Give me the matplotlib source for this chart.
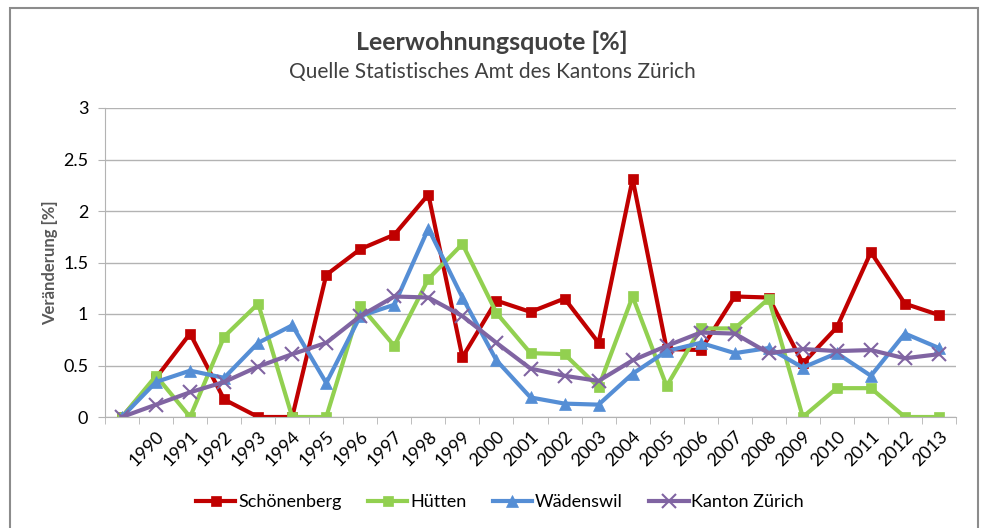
import matplotlib
matplotlib.use("Agg")
import matplotlib.pyplot as plt
from matplotlib.patches import Rectangle
import numpy as np

plt.rcParams['font.family'] = ['Lato', 'DejaVu Sans']

# ---- data ----
years = [""] + [str(y) for y in range(1990, 2014)]

schoenenberg = [0.0, 0.38, 0.81, 0.17, 0.0, 0.0, 1.38, 1.63, 1.77, 2.16, 0.58,
                1.13, 1.02, 1.15, 0.72, 2.31, 0.66, 0.65, 1.17, 1.16, 0.52,
                0.87, 1.60, 1.10, 0.99]
huetten = [0.0, 0.40, 0.0, 0.78, 1.10, 0.0, 0.0, 1.08, 0.69, 1.34, 1.68,
           1.01, 0.62, 0.61, 0.29, 1.17, 0.30, 0.86, 0.86, 1.15, 0.0,
           0.28, 0.28, 0.0, 0.0]
waedenswil = [0.0, 0.34, 0.45, 0.38, 0.72, 0.89, 0.33, 0.98, 1.09, 1.83, 1.16,
              0.55, 0.19, 0.13, 0.12, 0.42, 0.64, 0.72, 0.62, 0.67, 0.48,
              0.62, 0.40, 0.81, 0.67]
kanton = [0.0, 0.12, 0.24, 0.34, 0.49, 0.61, 0.72, 0.98, 1.17, 1.16, 0.98,
          0.72, 0.47, 0.40, 0.35, 0.55, 0.69, 0.82, 0.81, 0.62, 0.66,
          0.64, 0.65, 0.57, 0.61]

series = [
    ("Schönenberg", schoenenberg, "#C00000", "s", 7),
    ("Hütten", huetten, "#92D050", "s", 7),
    ("Wädenswil", waedenswil, "#558ED5", "^", 9),
    ("Kanton Zürich", kanton, "#8064A2", "x", 10),
]

# ---- figure ----
fig = plt.figure(figsize=(9.84, 5.28), dpi=100)
fig.patches.append(Rectangle((9.5 / 984, -0.01), (977.5 - 9.5) / 984, 1.01 - 8 / 528,
                             transform=fig.transFigure, fill=False,
                             edgecolor="#8c8c8c", linewidth=1.5))

ax = fig.add_axes([105 / 984, (528 - 417) / 528, (956 - 105) / 984, (417 - 108) / 528])
x = np.arange(len(years))

for name, vals, color, marker, ms in series:
    mew = 1.5 if marker == "x" else 0.5
    ax.plot(x, vals, color=color, linewidth=3, marker=marker, markersize=ms,
            markeredgewidth=mew, label=name, solid_joinstyle="round")

ax.set_xlim(-0.5, len(years) - 0.5)
ax.set_ylim(0, 3)
ax.set_yticks(np.arange(0, 3.01, 0.5))
ax.set_yticklabels(["0", "0.5", "1", "1.5", "2", "2.5", "3"])
ax.grid(axis="y", color="#b3b3b3", linewidth=1)
ax.set_axisbelow(True)

ax.set_xticks(x)
ax.set_xticklabels(years, rotation=45, ha="right", rotation_mode="anchor")
ax.set_xticks(np.arange(-0.5, len(years)), minor=True)
ax.tick_params(axis="x", which="major", length=0, pad=8, labelsize=13)
ax.tick_params(axis="x", which="minor", length=5, color="#b3b3b3")
ax.tick_params(axis="y", length=5, color="#b3b3b3", labelsize=13, pad=7)

for s in ["top", "right"]:
    ax.spines[s].set_visible(False)
ax.spines["left"].set_color("#b3b3b3")
ax.spines["bottom"].set_color("#b3b3b3")

ax.set_ylabel("Veränderung [%]", fontsize=12, fontweight="bold", color="#595959",
              labelpad=4)

fig.text(0.5, 1 - 42 / 528, "Leerwohnungsquote [%]", ha="center", va="center",
         fontsize=18, fontweight="bold", color="#404040")
fig.text(0.5, 1 - 72 / 528, "Quelle Statistisches Amt des Kantons Zürich",
         ha="center", va="center", fontsize=15, color="#404040")

fig.legend(loc="center", bbox_to_anchor=(0.508, 1 - 502 / 528), ncol=4,
           frameon=False, fontsize=13, handlelength=2.2, columnspacing=1.45,
           handletextpad=0.15)

fig.savefig("out.png", dpi=100)
